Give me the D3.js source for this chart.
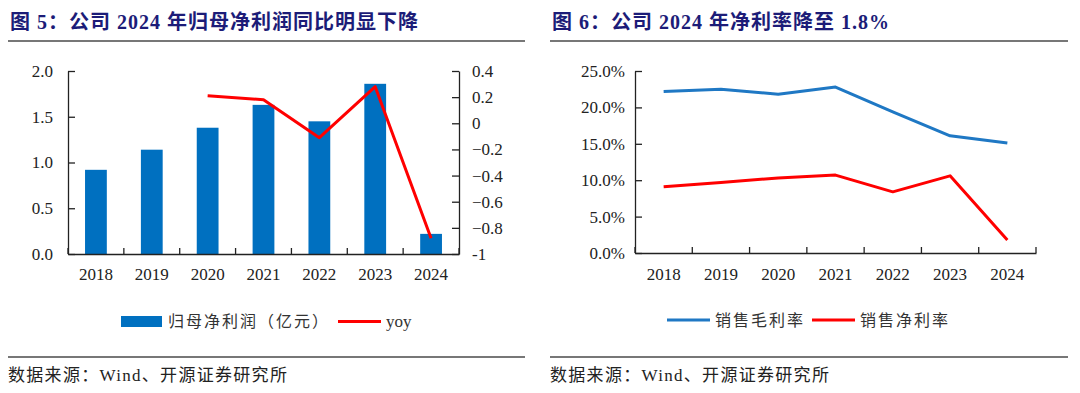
<!DOCTYPE html>
<meta charset="utf-8" />
<style>
  body { margin: 0; background: #fff; }
  svg { display: block; }
  .title { font: bold 20px "Liberation Serif", "Noto Sans CJK SC", serif; fill: #1c1c78; letter-spacing: 1px; }
  .tick text, .lbl { font: 17px "Liberation Serif", serif; fill: #222; }
  .legend { font: 16px "Liberation Serif", "Noto Sans CJK SC", sans-serif; fill: #333; letter-spacing: 2px; }
  .src { font: 17px "Liberation Serif", "Noto Sans CJK SC", serif; fill: #222; letter-spacing: 1.3px; }
</style>
<svg width="1080" height="393"></svg>
<script src="https://d3js.org/d3.v7.min.js"></script>
<script>
  var years = ["2018", "2019", "2020", "2021", "2022", "2023", "2024"];
  // 归母净利润（亿元）
  var profit = [0.92, 1.14, 1.38, 1.63, 1.45, 1.86, 0.22];
  // yoy, first two years missing
  var yoy = [null, null, 0.21, 0.18, -0.11, 0.28, -0.88];
  var leftTicks = [0, 0.5, 1.0, 1.5, 2.0];
  var rightTicks = [-1, -0.8, -0.6, -0.4, -0.2, 0, 0.2, 0.4];
  // 销售毛利率 / 销售净利率 (%)
  var gross = [22.2, 22.5, 21.8, 22.8, 19.4, 16.1, 15.1];
  var net = [9.1, 9.7, 10.3, 10.7, 8.4, 10.6, 1.8];
  var pctTicks = [0, 5, 10, 15, 20, 25];

  var svg = d3.select("svg");
  var barBlue = "#0070c0", red = "#ff0000", lineBlue = "#1f78c4";

  // headers, rules, sources
  function frame(x0, x1, title) {
    svg.append("text").attr("class", "title").attr("x", x0 + 2).attr("y", 29).text(title);
    svg.append("line").attr("x1", x0).attr("x2", x1).attr("y1", 41).attr("y2", 41)
      .attr("stroke", "#777").attr("stroke-width", 2);
    svg.append("line").attr("x1", x0).attr("x2", x1).attr("y1", 357).attr("y2", 357)
      .attr("stroke", "#777").attr("stroke-width", 2);
    svg.append("text").attr("class", "src").attr("x", x0).attr("y", 381)
      .text("数据来源：Wind、开源证券研究所");
  }
  frame(8, 525, "图 5：公司 2024 年归母净利润同比明显下降");
  frame(550, 1068, "图 6：公司 2024 年净利率降至 1.8%");

  function bandTicks(g, x, y0) {
    var edges = years.map(function(d) { return x(d); }).concat([x.range()[1]]);
    g.selectAll(".bt").data(edges).enter().append("line")
      .attr("x1", function(d) { return d; }).attr("x2", function(d) { return d; })
      .attr("y1", y0).attr("y2", y0 - 6).attr("stroke", "#222").attr("stroke-width", 1.3);
  }

  function styleAxis(g) {
    g.selectAll(".domain").attr("stroke", "#222").attr("stroke-width", 1.3);
    g.selectAll(".tick line").attr("stroke", "#222").attr("stroke-width", 1.3);
    g.selectAll(".tick text").attr("fill", "#222");
  }

  // ---- chart 1 ----
  var x1 = d3.scaleBand().domain(years).range([68, 459]);
  var yL = d3.scaleLinear().domain([0, 2]).range([254, 71]);
  var yR = d3.scaleLinear().domain([-1, 0.4]).range([254, 71]);
  var g1 = svg.append("g");

  var bw = x1.bandwidth() * 0.39;
  g1.selectAll("rect.bar").data(profit).enter().append("rect").attr("class", "bar")
    .attr("x", function(d, i) { return x1(years[i]) + (x1.bandwidth() - bw) / 2; })
    .attr("width", bw)
    .attr("y", function(d) { return yL(d); })
    .attr("height", function(d) { return yL(0) - yL(d); })
    .attr("fill", barBlue);

  var axL = g1.append("g").attr("transform", "translate(68,0)")
    .call(d3.axisLeft(yL).tickValues(leftTicks).tickFormat(d3.format(".1f")).tickSize(-7).tickSizeOuter(0).tickPadding(15));
  var axR = g1.append("g").attr("transform", "translate(459,0)")
    .call(d3.axisRight(yR).tickValues(rightTicks).tickFormat(function(d) { return Math.abs(d) < 1e-9 ? "0" : d === -1 ? "-1" : d3.format(".1f")(d); })
      .tickSize(-7).tickSizeOuter(0).tickPadding(13));
  var axB1 = g1.append("g").attr("transform", "translate(0,254)")
    .call(d3.axisBottom(x1).tickSize(0).tickSizeOuter(0).tickPadding(14));
  [axL, axR, axB1].forEach(styleAxis);
  bandTicks(g1, x1, 254);

  var yoyLine = d3.line()
    .defined(function(d) { return d != null; })
    .x(function(d, i) { return x1(years[i]) + x1.bandwidth() / 2; })
    .y(function(d) { return yR(d); });
  g1.append("path").datum(yoy).attr("d", yoyLine).attr("fill", "none")
    .attr("stroke", red).attr("stroke-width", 3).attr("stroke-linejoin", "round");

  // legend 1
  var lg1 = svg.append("g");
  lg1.append("rect").attr("x", 121).attr("y", 316).attr("width", 41).attr("height", 11).attr("fill", barBlue);
  lg1.append("text").attr("class", "legend").attr("x", 168).attr("y", 327).text("归母净利润（亿元）");
  lg1.append("line").attr("x1", 338).attr("x2", 381).attr("y1", 321.5).attr("y2", 321.5).attr("stroke", red).attr("stroke-width", 3);
  lg1.append("text").attr("class", "legend").attr("x", 386).attr("y", 327).style("font-size", "17px").style("letter-spacing", "0").text("yoy");

  // ---- chart 2 ----
  var x2 = d3.scaleBand().domain(years).range([635, 1036]);
  var y2 = d3.scaleLinear().domain([0, 25]).range([253, 71]);
  var g2 = svg.append("g");
  var axL2 = g2.append("g").attr("transform", "translate(635,0)")
    .call(d3.axisLeft(y2).tickValues(pctTicks).tickFormat(function(d) { return d.toFixed(1) + "%"; })
      .tickSize(-7).tickSizeOuter(0).tickPadding(10));
  var axB2 = g2.append("g").attr("transform", "translate(0,253)")
    .call(d3.axisBottom(x2).tickSize(0).tickSizeOuter(0).tickPadding(15));
  [axL2, axB2].forEach(styleAxis);
  bandTicks(g2, x2, 253);

  var pl = d3.line()
    .x(function(d, i) { return x2(years[i]) + x2.bandwidth() / 2; })
    .y(function(d) { return y2(d); });
  [[gross, lineBlue], [net, red]].forEach(function(s) {
    g2.append("path").datum(s[0]).attr("d", pl).attr("fill", "none")
      .attr("stroke", s[1]).attr("stroke-width", 3).attr("stroke-linejoin", "round");
  });

  // legend 2
  var lg2 = svg.append("g");
  lg2.append("line").attr("x1", 667).attr("x2", 710).attr("y1", 320).attr("y2", 320).attr("stroke", lineBlue).attr("stroke-width", 3);
  lg2.append("text").attr("class", "legend").attr("x", 715).attr("y", 326).text("销售毛利率");
  lg2.append("line").attr("x1", 812).attr("x2", 855).attr("y1", 320).attr("y2", 320).attr("stroke", red).attr("stroke-width", 3);
  lg2.append("text").attr("class", "legend").attr("x", 860).attr("y", 326).text("销售净利率");
</script>
